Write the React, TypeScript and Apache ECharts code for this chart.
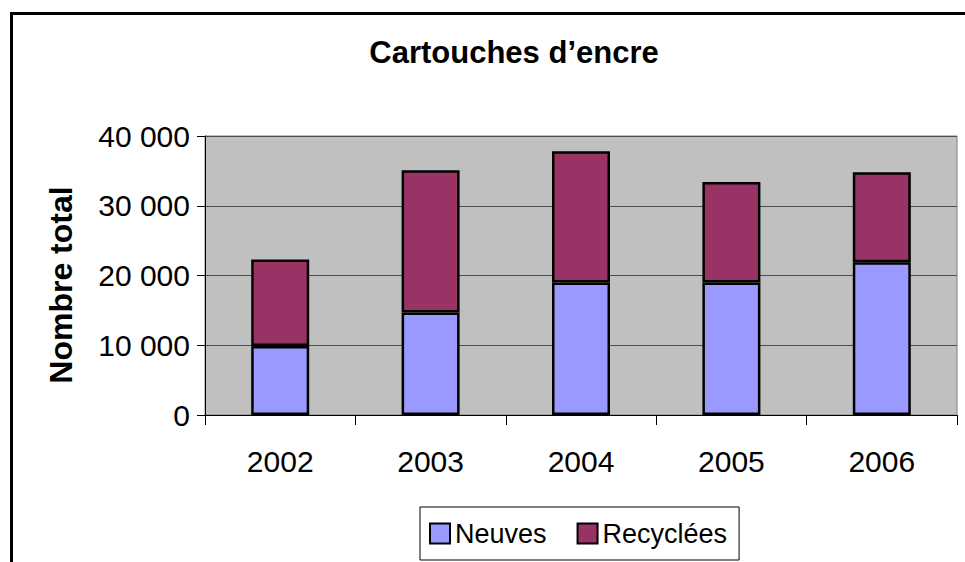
import React, { useEffect, useRef } from "react";
import * as echarts from "echarts";

const categories = ["2002", "2003", "2004", "2005", "2006"];
const neuves = [9900, 14700, 19000, 19000, 21900];
const recyclees = [12400, 20400, 18800, 14400, 12900];
const seriesNames = ["Neuves", "Recyclées"];
const yTicks = { min: 0, max: 40000, interval: 10000 };
const yAxisTitle = "Nombre total";

const FONT = "'Liberation Sans', Arial, sans-serif";

function fmt(v: number): string {
  return String(v).replace(/\B(?=(\d{3})+(?!\d))/g, " ");
}

export default function App() {
  const ref = useRef<HTMLDivElement>(null);
  useEffect(() => {
    if (!ref.current) return;
    const chart = echarts.init(ref.current, undefined, { renderer: "svg" });
    chart.setOption({
      animation: false,
      backgroundColor: "#ffffff",
      title: {
        text: "Cartouches d’encre",
        left: 514,
        textAlign: "center",
        top: 37,
        padding: 0,
        textStyle: { fontSize: 31, fontWeight: "bold", fontFamily: FONT, color: "#000" },
      },
      graphic: [
        {
          type: "rect",
          shape: { x: 11.5, y: 13.5, width: 980, height: 620 },
          style: { fill: "none", stroke: "#000", lineWidth: 3 },
          silent: true,
          z: 100,
        },
        {
          type: "text",
          x: 61,
          y: 285,
          rotation: Math.PI / 2,
          style: {
            text: yAxisTitle,
            fontSize: 32,
            fontWeight: "bold",
            fontFamily: FONT,
            fill: "#000",
            align: "center",
            verticalAlign: "middle",
          },
        },
      ],
      legend: {
        left: 420,
        top: 507,
        padding: [13, 12, 13, 9],
        itemGap: 30,
        itemWidth: 20,
        itemHeight: 20,
        borderColor: "#000",
        borderWidth: 1,
        icon: "rect",
        data: seriesNames,
        itemStyle: { borderColor: "#000", borderWidth: 2 },
        textStyle: { fontSize: 27, fontFamily: FONT, color: "#000" },
      },
      grid: {
        left: 205,
        top: 136,
        right: 8,
        bottom: 147,
        show: true,
        backgroundColor: "#C0C0C0",
        borderColor: "#808080",
        borderWidth: 1,
      },
      xAxis: {
        type: "category",
        data: categories,
        boundaryGap: true,
        axisLine: { lineStyle: { color: "#000", width: 1 } },
        axisTick: { show: true, length: 10, inside: false, lineStyle: { color: "#000" } },
        axisLabel: { fontSize: 30, fontFamily: FONT, color: "#000", margin: 31 },
      },
      yAxis: {
        type: "value",
        min: yTicks.min,
        max: yTicks.max,
        interval: yTicks.interval,
        axisLine: { show: true, lineStyle: { color: "#000", width: 1 } },
        axisTick: { show: true, length: 8, lineStyle: { color: "#000" } },
        axisLabel: {
          fontSize: 30,
          fontFamily: FONT,
          color: "#000",
          margin: 15,
          formatter: (v: number) => fmt(v),
        },
        splitLine: { show: true, lineStyle: { color: "#4d4d4d", width: 1 } },
      },
      series: [
        {
          name: seriesNames[0],
          type: "bar",
          stack: "total",
          data: neuves,
          barWidth: 58,
          itemStyle: { color: "#9999FF", borderColor: "#000", borderWidth: 2.5 },
        },
        {
          name: seriesNames[1],
          type: "bar",
          stack: "total",
          data: recyclees,
          barWidth: 58,
          itemStyle: { color: "#993366", borderColor: "#000", borderWidth: 2.5 },
        },
      ],
    });
    return () => chart.dispose();
  }, []);
  return (
    <div
      ref={ref}
      style={{ position: "fixed", left: 0, top: 0, width: 965, height: 562 }}
    />
  );
}
